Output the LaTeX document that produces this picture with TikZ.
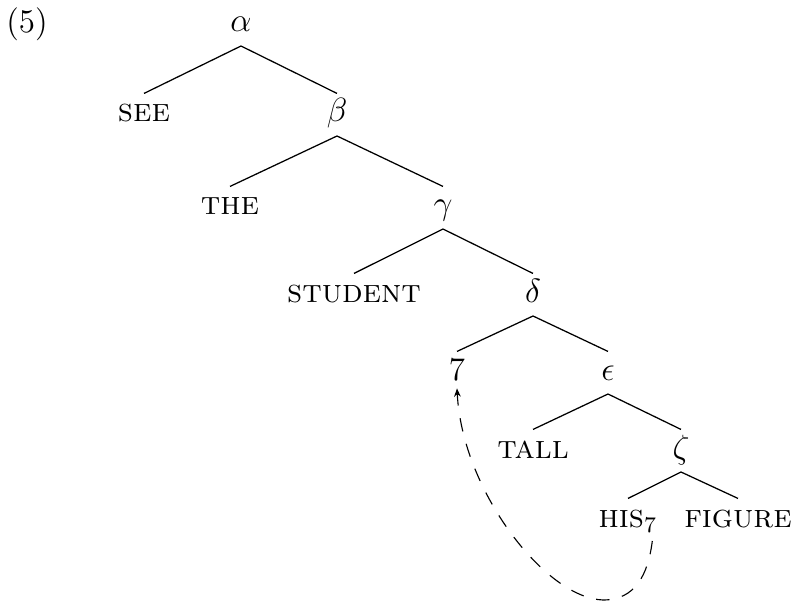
\documentclass[tikz,border=0pt]{standalone}
\usetikzlibrary{arrows.meta}
\begin{document}
\begin{tikzpicture}[x=0.3571pt,y=-0.3571pt,
  lbl/.style={anchor=base,inner sep=0pt,text height=10pt,text depth=4.8pt,font=\fontsize{11.8}{14}\selectfont},
  branch/.style={line width=0.45pt},
  move/.style={line width=0.4pt,dash pattern=on 4.8pt off 4.6pt,-{Stealth[length=3pt,width=2.4pt]}}]
\useasboundingbox (0,0) rectangle (791,602);
\node[lbl] (ex) at (27,33) {(5)};
\node[lbl] (a) at (241,32) {$\alpha$};
\node[lbl] (see) at (144,122) {\textsc{see}};
\node[lbl] (b) at (337,122) {$\beta$};
\node[lbl] (the) at (230,215) {\textsc{the}};
\node[lbl] (g) at (443,215) {$\gamma$};
\node[lbl] (stu) at (354,302) {\textsc{student}};
\node[lbl] (d) at (533,302) {$\delta$};
\node[lbl] (t) at (457,380) {7};
\node[lbl] (e) at (608,380) {$\epsilon$};
\node[lbl] (tall) at (533,458) {\textsc{tall}};
\node[lbl] (z) at (681,458) {$\zeta$};
\node[lbl] (his) at (628,527) {\textsc{his}$_7$};
\node[lbl] (fig) at (738,527) {\textsc{figure}};
\coordinate (low) at (603,600);
\foreach \p/\c in {a/see,a/b,b/the,b/g,g/stu,g/d,d/t,d/e,e/tall,e/z,z/his,z/fig}
  \draw[branch] (\p.south) -- (\c.north);
\draw[move] ([xshift=-2pt]his.south east) .. controls (648,575) and (635,600) .. (low)
  .. controls (545,598) and (462,490) .. ([yshift=2pt]t.south);
\end{tikzpicture}
\end{document}
